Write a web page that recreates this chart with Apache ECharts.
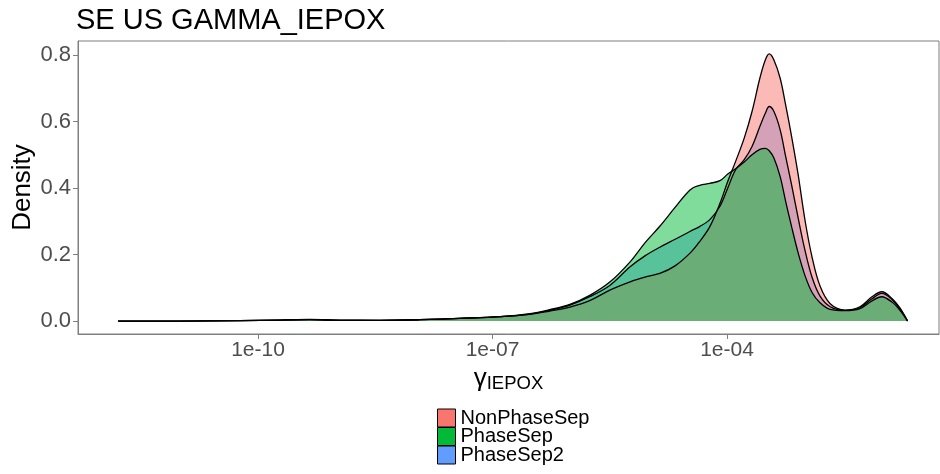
<!DOCTYPE html>
<html>
<head>
<meta charset="utf-8">
<script src="https://cdn.jsdelivr.net/npm/echarts@6/dist/echarts.min.js"></script>
<style>
  html, body { margin: 0; padding: 0; background: #fff; }
  #mychart { width: 940px; height: 474px; }
</style>
</head>
<body>
<div id="mychart"></div>
<script>
// x 轴为 log10(gamma)
var xLog = [-11.79, -11.0, -10.23, -9.72, -9.34, -8.95, -8.44, -7.93, -7.42, -6.9,
    -6.52, -6.27, -6.01, -5.75, -5.5, -5.24, -5.05, -4.86, -4.67, -4.47,
    -4.35, -4.22, -4.09, -3.99, -3.89, -3.78, -3.68, -3.58, -3.51, -3.46,
    -3.4, -3.32, -3.25, -3.17, -3.09, -3.0, -2.91, -2.81, -2.68, -2.49,
    -2.3, -2.15, -2.02, -1.89, -1.79, -1.69];

var nonPhaseSep = [0, 0, 0.001, 0.003, 0.004, 0.002, 0.002, 0.004, 0.008, 0.013,
    0.02, 0.03, 0.042, 0.062, 0.093, 0.118, 0.132, 0.143, 0.165, 0.205,
    0.239, 0.284, 0.354, 0.42, 0.48, 0.55, 0.63, 0.73, 0.785, 0.803,
    0.785, 0.73, 0.65, 0.55, 0.44, 0.30, 0.19, 0.105, 0.052, 0.033,
    0.043, 0.072, 0.088, 0.068, 0.04, 0];

var phaseSep = [0, 0, 0.001, 0.003, 0.005, 0.003, 0.002, 0.004, 0.008, 0.013,
    0.022, 0.034, 0.05, 0.078, 0.117, 0.178, 0.235, 0.285, 0.34, 0.395,
    0.408, 0.414, 0.422, 0.442, 0.458, 0.478, 0.50, 0.516, 0.519, 0.512,
    0.49, 0.434, 0.36, 0.28, 0.205, 0.135, 0.085, 0.055, 0.035, 0.031,
    0.037, 0.06, 0.073, 0.057, 0.033, 0];

var phaseSep2 = [0, 0, 0.001, 0.003, 0.004, 0.002, 0.002, 0.004, 0.008, 0.013,
    0.021, 0.032, 0.048, 0.074, 0.107, 0.163, 0.196, 0.222, 0.245, 0.27,
    0.284, 0.305, 0.345, 0.40, 0.455, 0.485, 0.525, 0.585, 0.625, 0.645,
    0.63, 0.575, 0.495, 0.405, 0.31, 0.21, 0.13, 0.075, 0.043, 0.032,
    0.04, 0.066, 0.083, 0.065, 0.037, 0];

var seriesNames = ['NonPhaseSep', 'PhaseSep', 'PhaseSep2'];
var seriesColors = ['#F8766D', '#00BA38', '#619CFF'];
var xTicks = [-10, -7, -4];
var yTicks = [0, 0.2, 0.4, 0.6, 0.8];

function toPairs(ys) {
    var arr = [];
    for (var i = 0; i < xLog.length; i++) {
        arr.push([xLog[i], ys[i]]);
    }
    return arr;
}

function expLabel(v) {
    var n = Math.abs(Math.round(v));
    return '1e' + (v < 0 ? '-' : '+') + (n < 10 ? '0' + n : n);
}

function densitySeries(idx, ys) {
    return {
        name: seriesNames[idx],
        type: 'line',
        smooth: 0.35,
        symbol: 'none',
        data: toPairs(ys),
        itemStyle: { color: seriesColors[idx] },
        lineStyle: { color: '#000', width: 1.3 },
        areaStyle: { color: seriesColors[idx], opacity: 0.5 }
    };
}

var myChart = echarts.init(document.getElementById('mychart'));
var font = '"Liberation Sans", Arial, sans-serif';

myChart.setOption({
    backgroundColor: '#fff',
    animation: false,
    title: {
        text: 'SE US GAMMA_IEPOX',
        left: 76,
        top: 6,
        padding: 0,
        textStyle: { fontFamily: font, fontSize: 29, fontWeight: 'normal', color: '#000' }
    },
    legend: {
        orient: 'vertical',
        left: 437,
        top: 408,
        height: 66,
        padding: 0,
        itemWidth: 18,
        itemHeight: 18,
        itemGap: -1.5,
        icon: 'rect',
        data: seriesNames,
        itemStyle: { borderColor: '#000', borderWidth: 1 },
        textStyle: { fontFamily: font, fontSize: 20, color: '#000' }
    },
    grid: {
        left: 78,
        right: 1,
        top: 41,
        bottom: 140,
        outerBoundsMode: 'none',
        show: true,
        borderColor: '#7f7f7f',
        borderWidth: 1
    },
    xAxis: {
        type: 'value',
        min: -12.303,
        max: -1.288,
        name: '{g|γ}{s|IEPOX}',
        nameLocation: 'middle',
        nameGap: 25,
        nameTextStyle: {
            rich: {
                g: { fontFamily: font, fontSize: 26, color: '#000' },
                s: { fontFamily: font, fontSize: 18.5, color: '#000', padding: [10, 0, 0, 0] }
            }
        },
        axisLine: { onZero: false, lineStyle: { color: '#7f7f7f' } },
        axisTick: { customValues: xTicks, length: 5, lineStyle: { color: '#7f7f7f' } },
        axisLabel: {
            customValues: xTicks,
            formatter: expLabel,
            margin: 6,
            fontFamily: font,
            fontSize: 21,
            color: '#4d4d4d'
        },
        splitLine: { show: false }
    },
    yAxis: {
        type: 'value',
        min: -0.039,
        max: 0.842,
        name: 'Density',
        nameLocation: 'middle',
        nameGap: 42,
        nameMoveOverlap: false,
        nameTextStyle: { fontFamily: font, fontSize: 26, color: '#000' },
        axisLine: { show: true, lineStyle: { color: '#7f7f7f' } },
        axisTick: { show: true, customValues: yTicks, length: 5, lineStyle: { color: '#7f7f7f' } },
        axisLabel: {
            customValues: yTicks,
            formatter: function (v) { return v.toFixed(1); },
            margin: 7,
            fontFamily: font,
            fontSize: 22,
            color: '#4d4d4d'
        },
        splitLine: { show: false }
    },
    // 绘制顺序：PhaseSep2 -> NonPhaseSep -> PhaseSep，叠色与原图一致
    series: [
        densitySeries(2, phaseSep2),
        densitySeries(0, nonPhaseSep),
        densitySeries(1, phaseSep)
    ]
});
</script>
</body>
</html>
